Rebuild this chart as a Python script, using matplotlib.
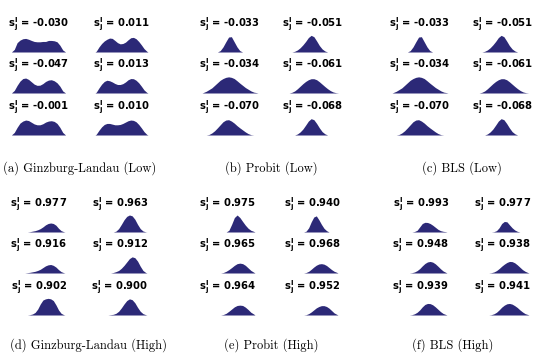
import numpy as np
import matplotlib
matplotlib.use("Agg")
import matplotlib.pyplot as plt

# ---------------- data ----------------
captions = ["(a) Ginzburg-Landau (Low)", "(b) Probit (Low)", "(c) BLS (Low)",
            "(d) Ginzburg-Landau (High)", "(e) Probit (High)", "(f) BLS (High)"]

gl_low_vals = [-0.030, 0.011, -0.047, 0.013, -0.001, 0.010]
probit_low_vals = [-0.033, -0.051, -0.034, -0.061, -0.070, -0.068]
bls_low_vals = [-0.033, -0.051, -0.034, -0.061, -0.070, -0.068]
gl_high_vals = [0.977, 0.963, 0.916, 0.912, 0.902, 0.900]
probit_high_vals = [0.975, 0.940, 0.965, 0.968, 0.964, 0.952]
bls_high_vals = [0.993, 0.977, 0.948, 0.938, 0.939, 0.941]

gl_low_hist = [
    [0, 0.15, 0.55, 0.7, 0.78, 0.8, 0.75, 0.68, 0.62, 0.6, 0.6, 0.62, 0.62, 0.68, 0.68, 0.66, 0.6, 0.4, 0.12, 0],
    [0.05, 0.3, 0.5, 0.65, 0.75, 0.82, 0.8, 0.68, 0.55, 0.48, 0.5, 0.58, 0.72, 0.84, 0.86, 0.78, 0.62, 0.42, 0.2, 0.05],
    [0, 0.15, 0.45, 0.7, 0.85, 0.88, 0.8, 0.66, 0.52, 0.45, 0.46, 0.55, 0.68, 0.76, 0.78, 0.72, 0.6, 0.4, 0.12, 0],
    [0.05, 0.3, 0.52, 0.68, 0.75, 0.72, 0.65, 0.56, 0.5, 0.5, 0.55, 0.65, 0.78, 0.85, 0.84, 0.75, 0.6, 0.4, 0.18, 0.04],
    [0, 0.15, 0.45, 0.7, 0.82, 0.88, 0.85, 0.75, 0.65, 0.6, 0.6, 0.66, 0.76, 0.82, 0.84, 0.8, 0.68, 0.45, 0.15, 0],
    [0.05, 0.28, 0.48, 0.62, 0.68, 0.68, 0.64, 0.6, 0.6, 0.62, 0.68, 0.76, 0.84, 0.88, 0.86, 0.78, 0.62, 0.42, 0.2, 0.04],
]
probit_low_hist = [
    [0, 0, 0, 0, 0, 0, 0.08, 0.3, 0.6, 0.88, 0.9, 0.6, 0.3, 0.08, 0, 0, 0, 0, 0, 0],
    [0, 0, 0, 0.04, 0.12, 0.25, 0.42, 0.62, 0.85, 0.98, 0.9, 0.65, 0.38, 0.18, 0.06, 0, 0, 0, 0, 0],
    [0.03, 0.1, 0.2, 0.3, 0.45, 0.6, 0.75, 0.85, 0.92, 0.95, 0.92, 0.85, 0.72, 0.58, 0.45, 0.32, 0.22, 0.12, 0.05, 0.02],
    [0, 0, 0.04, 0.12, 0.25, 0.4, 0.55, 0.68, 0.78, 0.84, 0.84, 0.78, 0.66, 0.52, 0.38, 0.25, 0.14, 0.06, 0.02, 0],
    [0, 0, 0.03, 0.12, 0.25, 0.42, 0.6, 0.78, 0.88, 0.9, 0.82, 0.7, 0.55, 0.42, 0.3, 0.18, 0.08, 0.02, 0, 0],
    [0, 0, 0, 0, 0.06, 0.18, 0.35, 0.58, 0.82, 0.96, 0.9, 0.68, 0.42, 0.2, 0.07, 0, 0, 0, 0, 0],
]
bls_low_hist = [
    [0, 0, 0, 0, 0, 0, 0.08, 0.3, 0.6, 0.88, 0.9, 0.6, 0.3, 0.08, 0, 0, 0, 0, 0, 0],
    [0, 0, 0, 0.04, 0.12, 0.25, 0.42, 0.62, 0.85, 0.98, 0.9, 0.65, 0.38, 0.18, 0.06, 0, 0, 0, 0, 0],
    [0.03, 0.1, 0.2, 0.3, 0.45, 0.6, 0.75, 0.85, 0.92, 0.95, 0.92, 0.85, 0.72, 0.58, 0.45, 0.32, 0.22, 0.12, 0.05, 0.02],
    [0, 0, 0.04, 0.12, 0.25, 0.4, 0.55, 0.68, 0.78, 0.84, 0.84, 0.78, 0.66, 0.52, 0.38, 0.25, 0.14, 0.06, 0.02, 0],
    [0, 0, 0.03, 0.12, 0.25, 0.42, 0.6, 0.78, 0.88, 0.9, 0.82, 0.7, 0.55, 0.42, 0.3, 0.18, 0.08, 0.02, 0, 0],
    [0, 0, 0, 0, 0.06, 0.18, 0.35, 0.58, 0.82, 0.96, 0.9, 0.68, 0.42, 0.2, 0.07, 0, 0, 0, 0, 0],
]
gl_high_hist = [
    [0, 0, 0, 0, 0, 0, 0.02, 0.05, 0.08, 0.13, 0.2, 0.3, 0.42, 0.5, 0.53, 0.5, 0.4, 0.22, 0.08, 0.02],
    [0, 0, 0, 0, 0, 0, 0, 0, 0.05, 0.2, 0.45, 0.72, 0.92, 1.0, 0.95, 0.75, 0.45, 0.2, 0.06, 0.01],
    [0, 0, 0, 0, 0, 0.02, 0.04, 0.07, 0.1, 0.15, 0.22, 0.32, 0.42, 0.48, 0.5, 0.45, 0.35, 0.2, 0.08, 0.02],
    [0, 0, 0, 0, 0, 0, 0, 0.03, 0.08, 0.15, 0.28, 0.45, 0.65, 0.85, 0.95, 0.9, 0.7, 0.4, 0.15, 0.03],
    [0, 0, 0, 0, 0, 0, 0.02, 0.06, 0.15, 0.35, 0.65, 0.88, 0.95, 0.98, 0.95, 0.85, 0.6, 0.3, 0.1, 0.02],
    [0, 0, 0, 0, 0, 0, 0.02, 0.04, 0.1, 0.22, 0.42, 0.65, 0.85, 0.95, 0.9, 0.72, 0.45, 0.22, 0.08, 0.02],
]
probit_high_hist = [
    [0, 0, 0, 0, 0, 0, 0, 0, 0, 0, 0.1, 0.45, 0.85, 1.0, 0.85, 0.62, 0.4, 0.22, 0.1, 0.04],
    [0, 0, 0, 0, 0, 0, 0, 0.05, 0.25, 0.6, 0.88, 0.95, 0.72, 0.45, 0.22, 0.08, 0, 0, 0, 0],
    [0, 0, 0, 0, 0, 0, 0, 0, 0.03, 0.1, 0.2, 0.32, 0.45, 0.55, 0.58, 0.55, 0.45, 0.3, 0.15, 0.05],
    [0, 0, 0, 0, 0, 0, 0, 0.03, 0.1, 0.22, 0.35, 0.46, 0.53, 0.55, 0.52, 0.44, 0.32, 0.2, 0.1, 0.04],
    [0, 0, 0, 0, 0, 0, 0, 0, 0.03, 0.1, 0.22, 0.35, 0.48, 0.56, 0.58, 0.56, 0.46, 0.32, 0.16, 0.06],
    [0, 0, 0, 0, 0, 0, 0, 0.02, 0.08, 0.18, 0.3, 0.42, 0.5, 0.55, 0.55, 0.5, 0.4, 0.26, 0.12, 0.04],
]
bls_high_hist = [
    [0, 0, 0, 0, 0, 0, 0, 0.03, 0.1, 0.3, 0.5, 0.57, 0.56, 0.5, 0.4, 0.28, 0.16, 0.08, 0.04, 0.02],
    [0, 0, 0, 0, 0, 0, 0.02, 0.08, 0.25, 0.5, 0.62, 0.6, 0.42, 0.25, 0.12, 0.04, 0, 0, 0, 0],
    [0, 0, 0, 0, 0, 0, 0.02, 0.06, 0.14, 0.26, 0.42, 0.56, 0.65, 0.68, 0.64, 0.54, 0.4, 0.25, 0.12, 0.04],
    [0, 0, 0, 0, 0, 0.02, 0.06, 0.14, 0.26, 0.4, 0.52, 0.62, 0.68, 0.67, 0.6, 0.48, 0.34, 0.2, 0.1, 0.03],
    [0, 0, 0, 0, 0, 0, 0.02, 0.07, 0.16, 0.3, 0.48, 0.62, 0.68, 0.67, 0.6, 0.48, 0.34, 0.2, 0.09, 0.03],
    [0, 0, 0, 0, 0, 0.02, 0.07, 0.16, 0.3, 0.46, 0.58, 0.66, 0.68, 0.64, 0.55, 0.44, 0.3, 0.18, 0.08, 0.03],
]

panel_vals = [gl_low_vals, probit_low_vals, bls_low_vals,
              gl_high_vals, probit_high_vals, bls_high_vals]
panel_hists = [gl_low_hist, probit_low_hist, bls_low_hist,
               gl_high_hist, probit_high_hist, bls_high_hist]

# ---------------- layout (pixels) ----------------
W, H = 535, 356
COLOR = "#2c2977"
col_ext = [
    [(10, 67), (95, 148)],
    [(202, 258), (285, 340)],
    [(392, 448), (475, 530)],
    [(13, 65), (93, 147)],
    [(200, 255), (287, 338)],
    [(395, 447), (477, 529)],
]
baselines_top = [52, 93, 135]
baselines_bot = [232, 273, 315]
label_top = [24, 65, 107]
label_bot = [204, 245, 287]
cap_x = [80, 271, 462, 88, 271, 453]
cap_y = [168, 168, 168, 345, 345, 345]
unit_h = 17.0

fig = plt.figure(figsize=(W / 100, H / 100), dpi=100)

for p in range(6):
    vals = panel_vals[p]
    hists = panel_hists[p]
    bases = baselines_top if p < 3 else baselines_bot
    labys = label_top if p < 3 else label_bot
    for k in range(6):
        r, c = divmod(k, 2)
        x0, x1 = col_ext[p][c]
        base = bases[r]
        ax = fig.add_axes([x0 / W, 1 - base / H, (x1 - x0) / W, unit_h / H])
        h = np.array(hists[k], dtype=float)
        n = len(h)
        centers = (np.arange(n) + 0.5) / n
        xs = np.concatenate([[0.0], centers, [1.0]])
        ys = np.concatenate([[0.0], h, [0.0]])
        ax.fill_between(xs, 0, ys, color=COLOR, linewidth=0)
        ax.set_xlim(0, 1)
        ax.set_ylim(0, 1)
        ax.axis("off")
        fig.text((x0 + x1) / 2 / W, 1 - labys[r] / H,
                 r"$\mathbf{s_j^l}$ = " + f"{vals[k]:.3f}",
                 ha="center", va="center", fontsize=7.2, fontweight="bold")
    fig.text(cap_x[p] / W, 1 - cap_y[p] / H, captions[p], ha="center",
             va="center", fontsize=9, family="cmr10")

fig.savefig("out.png", dpi=100)
